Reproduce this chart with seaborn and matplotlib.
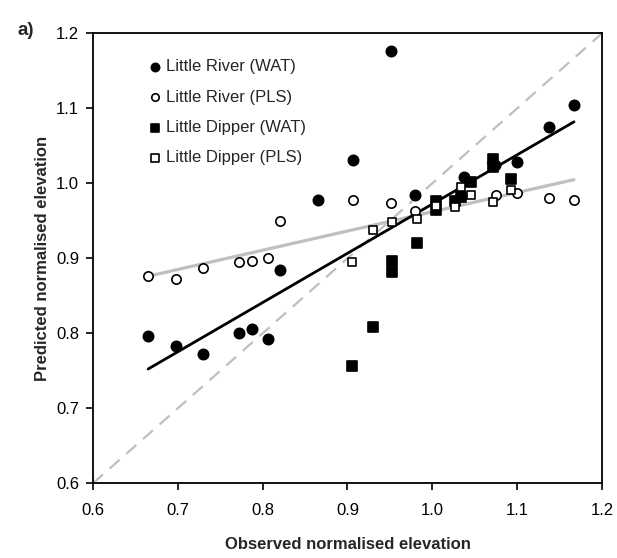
import numpy as np
import pandas as pd
import matplotlib
matplotlib.use("Agg")
import matplotlib.pyplot as plt
import seaborn as sns

# Little River, WAT model
lr_wat_obs = [0.665, 0.698, 0.730, 0.772, 0.787, 0.806, 0.821, 0.865, 0.907,
              0.951, 0.980, 1.034, 1.037, 1.074, 1.100, 1.137, 1.167]
lr_wat_pred = [0.796, 0.783, 0.772, 0.800, 0.806, 0.792, 0.884, 0.978, 1.031,
               1.176, 0.985, 0.983, 1.008, 1.024, 1.029, 1.075, 1.105]

# Little River, PLS model
lr_pls_obs = [0.665, 0.698, 0.730, 0.772, 0.787, 0.806, 0.821, 0.907, 0.951,
              0.980, 1.075, 1.100, 1.137, 1.167]
lr_pls_pred = [0.876, 0.872, 0.887, 0.895, 0.897, 0.901, 0.950, 0.978, 0.974,
               0.963, 0.984, 0.987, 0.980, 0.978]

# Little Dipper, WAT model
ld_wat_obs = [0.905, 0.930, 0.953, 0.953, 0.982, 1.004, 1.004, 1.027, 1.034,
              1.045, 1.071, 1.071, 1.093]
ld_wat_pred = [0.756, 0.809, 0.897, 0.882, 0.921, 0.976, 0.964, 0.976, 0.982,
               1.002, 1.033, 1.022, 1.006]

# Little Dipper, PLS model
ld_pls_obs = [0.905, 0.930, 0.953, 0.982, 1.004, 1.027, 1.034, 1.045, 1.071,
              1.093]
ld_pls_pred = [0.895, 0.938, 0.949, 0.952, 0.970, 0.969, 0.995, 0.984, 0.975,
               0.991]

series_names = ["Little River (WAT)", "Little River (PLS)",
                "Little Dipper (WAT)", "Little Dipper (PLS)"]

df = pd.concat([
    pd.DataFrame({"obs": lr_wat_obs, "pred": lr_wat_pred,
                  "series": series_names[0], "model": "WAT"}),
    pd.DataFrame({"obs": lr_pls_obs, "pred": lr_pls_pred,
                  "series": series_names[1], "model": "PLS"}),
    pd.DataFrame({"obs": ld_wat_obs, "pred": ld_wat_pred,
                  "series": series_names[2], "model": "WAT"}),
    pd.DataFrame({"obs": ld_pls_obs, "pred": ld_pls_pred,
                  "series": series_names[3], "model": "PLS"}),
], ignore_index=True)

sns.set_style("ticks")
plt.rcParams["font.family"] = ["Liberation Sans", "DejaVu Sans"]

fig = plt.figure(figsize=(6.17, 5.58), dpi=100)
ax = fig.add_axes([0.1507, 0.1339, 0.8250, 0.8064])

# 1:1 line
ax.plot([0.6, 1.2], [0.6, 1.2], color="#bfbfbf", lw=1.6,
        dashes=(6, 4), zorder=1)

# regression lines for each model
sns.regplot(data=df[df["model"] == "PLS"], x="obs", y="pred", ax=ax,
            scatter=False, ci=None, color="#bfbfbf",
            line_kws={"lw": 2.3, "zorder": 2})
sns.regplot(data=df[df["model"] == "WAT"], x="obs", y="pred", ax=ax,
            scatter=False, ci=None, color="black",
            line_kws={"lw": 2.0, "zorder": 2})

styles = {
    series_names[0]: dict(marker="o", facecolor="black", s=55),
    series_names[1]: dict(marker="o", facecolor="white", s=45),
    series_names[2]: dict(marker="s", facecolor="black", s=45),
    series_names[3]: dict(marker="s", facecolor="white", s=40),
}
for name in series_names:
    st = styles[name]
    sub = df[df["series"] == name]
    sns.scatterplot(data=sub, x="obs", y="pred", ax=ax, marker=st["marker"],
                    color=st["facecolor"], edgecolor="black", linewidth=1.2,
                    s=st["s"], label=name, zorder=3)

ax.set_xlim(0.6, 1.2)
ax.set_ylim(0.6, 1.2)
ax.set_xticks(np.arange(0.6, 1.21, 0.1))
ax.set_yticks(np.arange(0.6, 1.21, 0.1))
ax.xaxis.set_major_formatter(matplotlib.ticker.FormatStrFormatter("%.1f"))
ax.yaxis.set_major_formatter(matplotlib.ticker.FormatStrFormatter("%.1f"))
ax.tick_params(direction="out", length=5, width=1.2, labelsize=12,
               colors="black")
ax.tick_params(axis="x", pad=9)
ax.tick_params(axis="y", pad=5)
for sp in ax.spines.values():
    sp.set_visible(True)
    sp.set_color("black")
    sp.set_linewidth(1.3)

ax.set_xlabel("Observed normalised elevation", fontsize=12,
              fontweight="bold", labelpad=14)
ax.set_ylabel("Predicted normalised elevation", fontsize=12,
              fontweight="bold", labelpad=4)

leg = ax.legend(loc="upper left", bbox_to_anchor=(0.09, 0.957), frameon=False,
                fontsize=12, labelspacing=0.92, handletextpad=0.15,
                handlelength=1.1, borderaxespad=0, markerscale=0.8)

fig.text(0.028, 0.938, "a)", fontsize=13.5, fontweight="bold")

fig.savefig("out.png", dpi=100)
